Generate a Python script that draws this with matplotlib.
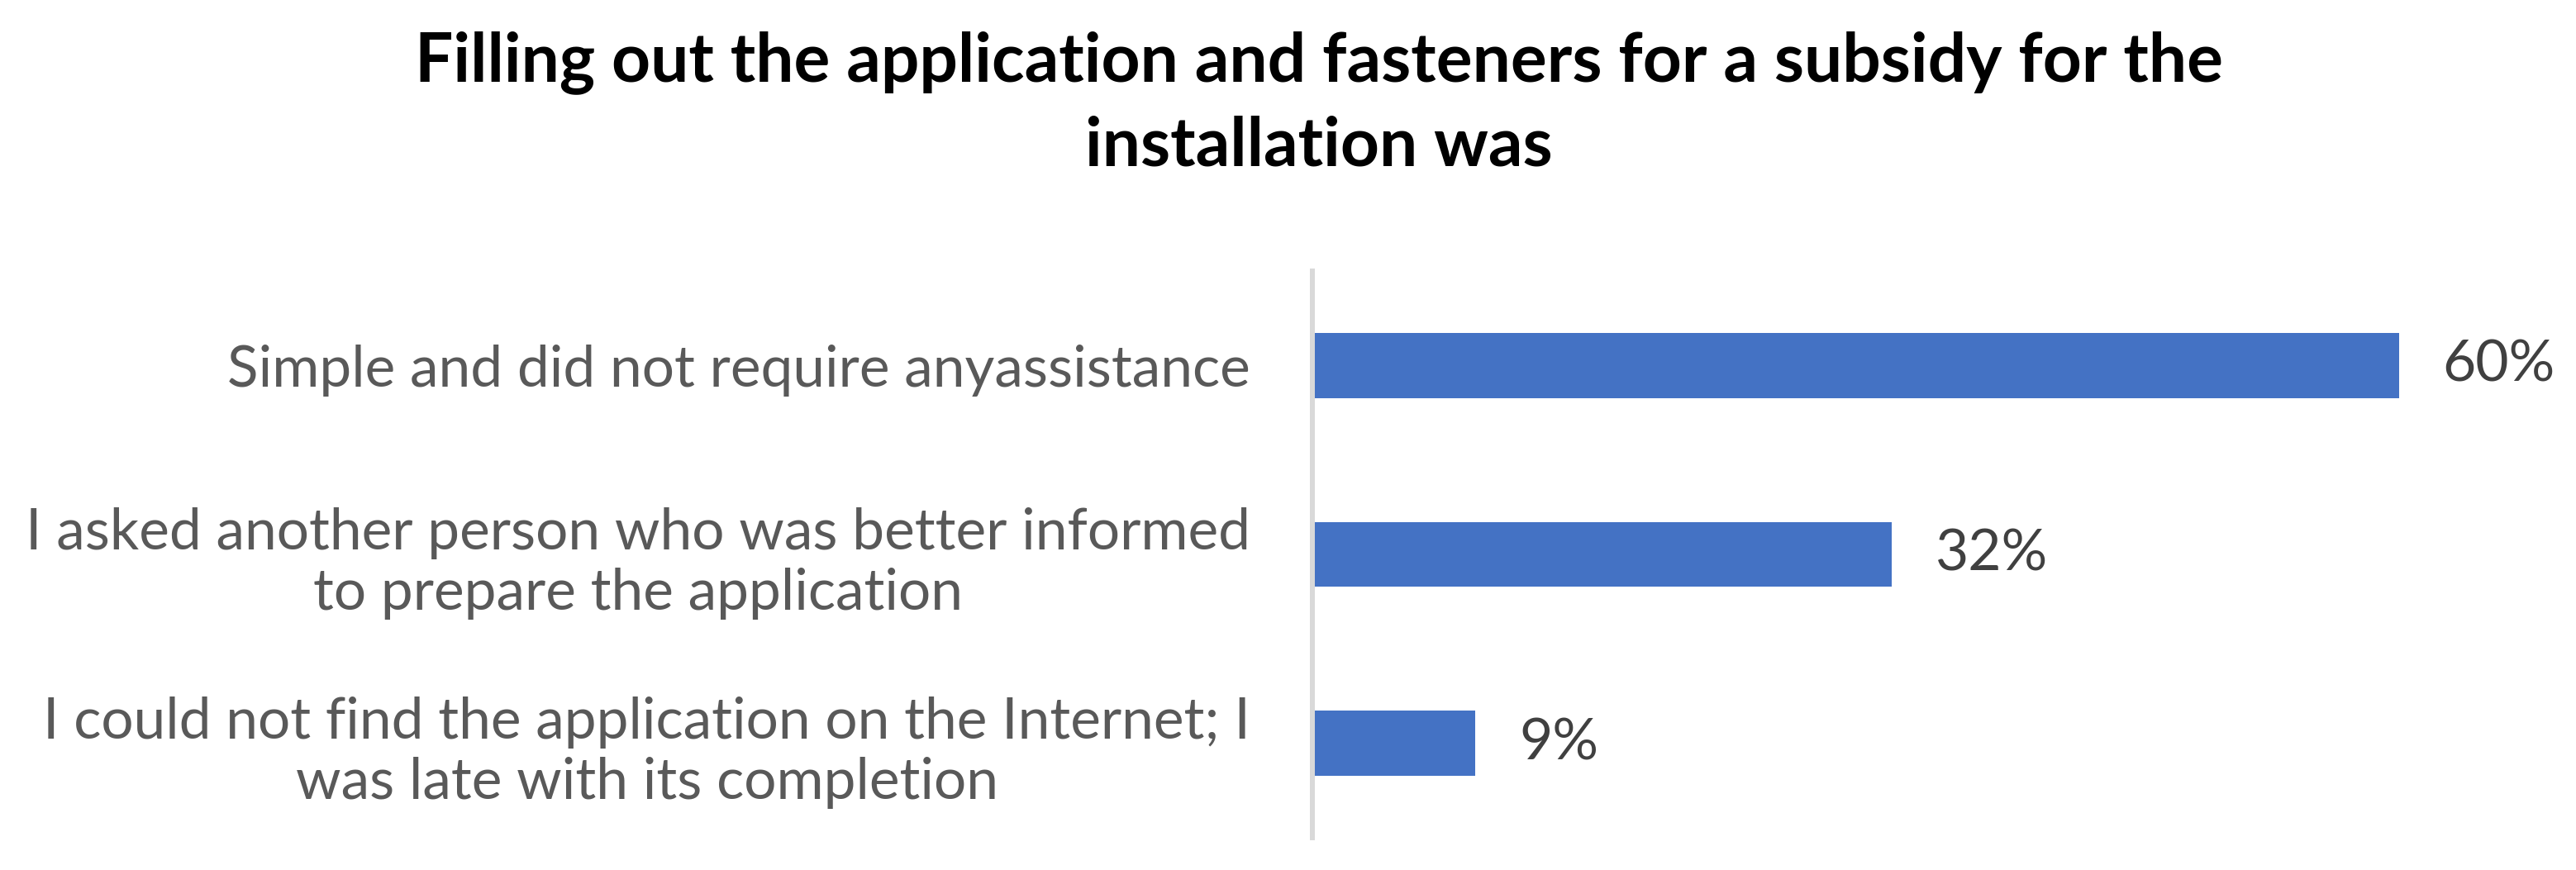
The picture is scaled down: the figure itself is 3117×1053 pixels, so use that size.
import matplotlib
matplotlib.use("Agg")
import matplotlib.pyplot as plt

categories = [
    "Simple and did not require anyassistance",
    "I asked another person who was better informed\nto prepare the application",
    "I could not find the application on the Internet; I\nwas late with its completion",
]
values = [60, 32, 9]
value_labels = ["60%", "32%", "9%"]
title = "Filling out the application and fasteners for a subsidy for the\ninstallation was"

plt.rcParams['font.family'] = ['Lato', 'DejaVu Sans']

fig = plt.figure(figsize=(31.17, 10.53), dpi=100)
ax = fig.add_axes([0.5095, 0.037, 0.492, 0.6515])

ypos = list(range(len(categories)))
ax.barh(ypos, values, height=0.345, color="#4472C4")
ax.set_ylim(2.5, -0.5)
ax.set_xlim(0, 70)
ax.set_yticks(ypos)
ax.set_yticklabels(categories, fontsize=50, color="#595959", ha="right", multialignment="center")
ax.tick_params(axis="y", length=0, pad=54)
ax.set_xticks([])
for s in ["top", "right", "bottom"]:
    ax.spines[s].set_visible(False)
ax.spines["left"].set_color("#D9D9D9")
ax.spines["left"].set_linewidth(4.3)

for y, v, lab in zip(ypos, values, value_labels):
    ax.annotate(lab, (v, y), xytext=(38, 0), textcoords="offset points",
                va="center", ha="left", fontsize=50, color="#404040")

fig.text(0.512, 0.965, title, ha="center", va="top", fontsize=59, fontweight="bold",
         color="black", linespacing=1.42)

fig.savefig("out.png", dpi=100, facecolor="white")
